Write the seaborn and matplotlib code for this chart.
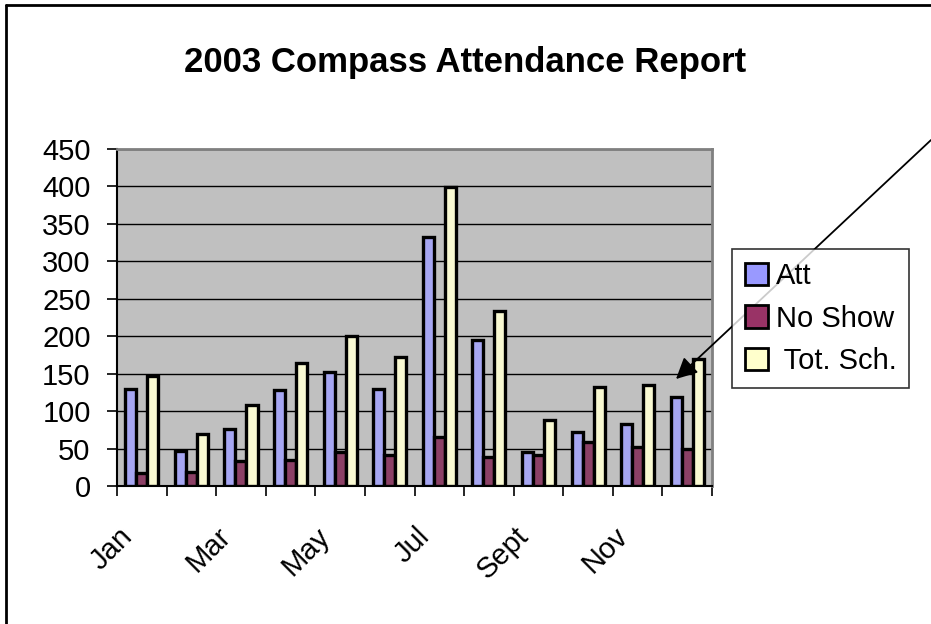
import matplotlib
matplotlib.use("Agg")
import matplotlib.pyplot as plt
import matplotlib.transforms as mtransforms
from matplotlib.lines import Line2D
from matplotlib.patches import Patch
import seaborn as sns
import pandas as pd

months = ["Jan", "Feb", "Mar", "Apr", "May", "Jun",
          "Jul", "Aug", "Sept", "Oct", "Nov", "Dec"]
att = [129, 47, 76, 128, 152, 130, 333, 195, 45, 72, 83, 119]
no_show = [17, 19, 33, 35, 46, 41, 65, 39, 42, 59, 52, 49]
tot_sch = [147, 69, 108, 164, 200, 172, 399, 234, 88, 132, 135, 169]
series = ["Att", "No Show", "Tot. Sch."]
colors = ["#9999FF", "#993366", "#FFFFCC"]

df = pd.DataFrame({"month": months, "Att": att, "No Show": no_show, "Tot. Sch.": tot_sch})
long = df.melt(id_vars="month", var_name="series", value_name="value")

sns.set_style("white")
plt.rcParams["font.family"] = ["Liberation Sans", "DejaVu Sans"]
plt.rcParams["text.color"] = "black"
plt.rcParams["xtick.color"] = "black"
plt.rcParams["ytick.color"] = "black"

fig = plt.figure(figsize=(9.31, 6.24), dpi=100)
ax = fig.add_axes([0.1257, 0.2212, 0.6391, 0.54])

sns.barplot(data=long, x="month", y="value", hue="series", order=months,
            hue_order=series, palette=colors, width=0.667, edgecolor="black",
            linewidth=2.4, ax=ax, legend=False, zorder=3)

ax.set_facecolor("#C0C0C0")
ax.set_ylim(0, 450)
ax.set_xlim(-0.5, len(months) - 0.5)
ax.set_yticks(range(0, 451, 50))
ax.yaxis.grid(True, color="black", linewidth=1.0, zorder=0)
ax.set_axisbelow(True)
ax.tick_params(axis="y", labelsize=21, length=7, width=1.2, direction="out",
               pad=12, left=True, labelcolor="black")

# labels on every other month, tick marks between categories
ax.set_xticks(range(0, 12, 2))
ax.set_xticklabels(months[::2], rotation=45, ha="right", rotation_mode="anchor",
                   fontsize=21, color="black")
ax.tick_params(axis="x", which="major", length=0, pad=26)
shift = mtransforms.ScaledTranslation(-24 / 100, 0, fig.dpi_scale_trans)
for lbl in ax.get_xticklabels():
    lbl.set_transform(lbl.get_transform() + shift)
ax.set_xticks([i - 0.5 for i in range(13)], minor=True)
ax.tick_params(axis="x", which="minor", length=7, width=1.2, direction="out",
               bottom=True)
ax.set_xlabel("")
ax.set_ylabel("")

for side in ["top", "right"]:
    ax.spines[side].set_color("#808080")
    ax.spines[side].set_linewidth(2)
for side in ["left", "bottom"]:
    ax.spines[side].set_color("black")
    ax.spines[side].set_linewidth(1.5)

fig.text(0.5, 0.90, "2003 Compass Attendance Report", ha="center", va="center",
         fontsize=25, fontweight="bold", color="black")

handles = [Patch(facecolor=c, edgecolor="black", linewidth=2) for c in colors]
leg = fig.legend(handles, ["Att", "No Show", " Tot. Sch."], loc="upper left",
                 bbox_to_anchor=(0.786, 0.601), fontsize=21, frameon=True,
                 fancybox=False, edgecolor="black", handlelength=0.8,
                 handleheight=0.8, handletextpad=0.25, labelspacing=0.5,
                 borderpad=0.45, borderaxespad=0)
leg.get_frame().set_linewidth(1.2)
for t in leg.get_texts():
    t.set_color("black")

# chart area border (left and top edges visible)
fig.add_artist(Line2D([0.006, 0.006], [0.0, 0.992], color="black", linewidth=2,
                      transform=fig.transFigure))
fig.add_artist(Line2D([0.006, 1.0], [0.992, 0.992], color="black", linewidth=2,
                      transform=fig.transFigure))

# callout arrow
ax.annotate("", xy=(0.7261, 0.3926), xycoords="figure fraction",
            xytext=(1.0, 0.7756), textcoords="figure fraction",
            arrowprops=dict(arrowstyle="-|>", color="black", lw=1.3,
                            mutation_scale=32, shrinkA=0, shrinkB=0))

fig.savefig("out.png", dpi=100)
